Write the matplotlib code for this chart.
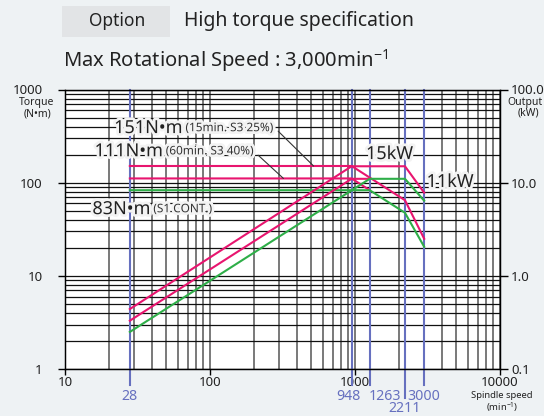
import matplotlib.pyplot as plt
from matplotlib import patheffects as pe
from matplotlib.patches import Rectangle
from matplotlib.ticker import FixedLocator, NullFormatter

plt.rcParams['font.family'] = ['Noto Sans', 'DejaVu Sans']
plt.rcParams['mathtext.default'] = 'regular'

# S3 25% (15min) curves
speed_25 = [28, 948, 2211, 3000]
torque_25 = [151, 151, 64.8, 25]
power_25 = [0.44, 15, 15, 7.8]

# S3 40% (60min) curves - join the S1 curves at 1263
speed_40 = [28, 948, 1263]
torque_40 = [111, 111, 83]
power_40 = [0.33, 11, 11]

# S1 continuous
speed_s1 = [28, 1263, 2211, 3000]
torque_s1 = [83, 83, 47.5, 20.5]
power_s1 = [0.25, 11, 11, 6.4]

marked_speeds = [28, 948, 1263, 2211, 3000]
marked_labels = ['28', '948', '1263', '2211', '3000']

x_ticks = [10, 100, 1000, 10000]
torque_ticks = [1, 10, 100, 1000]
power_ticks = [0.1, 1, 10, 100]

bg = '#eef2f4'
pink = '#e8156f'
green = '#2eae48'
blue = '#6670bf'
W, H = 544, 416

fig = plt.figure(figsize=(W / 100, H / 100), dpi=100, facecolor=bg)

# header
fig.patches.append(Rectangle((62 / W, 1 - 37 / H), 108 / W, 31 / H, transform=fig.transFigure,
                             facecolor='#e2e4e6', edgecolor='none'))
fig.text(117 / W, 1 - 21 / H, 'Option', fontsize=12.5, color='#222', ha='center', va='center')
fig.text(184 / W, 1 - 21 / H, 'High torque specification', fontsize=14, color='#222', va='center')
fig.text(63 / W, 1 - 61 / H, 'Max Rotational Speed : 3,000min$^{-1}$', fontsize=14.5, color='#222', va='center')

left, right, top, bottom = 65, 500, 89.5, 369
ax = fig.add_axes([left / W, 1 - bottom / H, (right - left) / W, (bottom - top) / H])
ax.set_xscale('log')
ax.set_yscale('log')
ax.set_xlim(10, 10000)
ax.set_ylim(1, 1000)
ax.set_facecolor('white')

ax.xaxis.set_major_locator(FixedLocator(x_ticks))
ax.yaxis.set_major_locator(FixedLocator(torque_ticks))
ax.xaxis.set_minor_formatter(NullFormatter())
ax.yaxis.set_minor_formatter(NullFormatter())
ax.set_xticklabels([str(v) for v in x_ticks])
ax.set_yticklabels([str(v) for v in torque_ticks])
ax.tick_params(axis='x', which='major', length=4, width=1, pad=1, labelsize=9.5, labelcolor='#222')
ax.tick_params(axis='y', which='major', length=5, width=1, pad=11, labelsize=9.5, labelcolor='#222')
ax.tick_params(which='minor', length=0)

ax.grid(True, which='both', axis='x', color='#555', lw=1.1)
ax.grid(True, which='both', axis='y', color='#111', lw=0.9)
ax.set_axisbelow(True)
for s in ax.spines.values():
    s.set_color('#111')
    s.set_linewidth(1)

ax2 = ax.twinx()
ax2.set_yscale('log')
ax2.set_ylim(0.1, 100)
ax2.yaxis.set_major_locator(FixedLocator(power_ticks))
ax2.yaxis.set_minor_formatter(NullFormatter())
ax2.set_yticklabels(['%.1f' % v for v in power_ticks])
ax2.tick_params(axis='y', which='major', length=6, width=1, pad=2, labelsize=9.5, labelcolor='#222')
ax2.tick_params(which='minor', length=0)

# marked speeds
for sp, lab in zip(marked_speeds, marked_labels):
    low = -0.105 if lab == '2211' else -0.057
    ax.plot([sp, sp], [low, 1], transform=ax.get_xaxis_transform(), color=blue, lw=1.5,
            clip_on=False, zorder=2)
    dx = 11 if lab == '1263' else (-2 if lab == '948' else 0)
    ty = -0.143 if lab == '2211' else -0.098
    ax.annotate(lab, xy=(sp, ty), xycoords=ax.get_xaxis_transform(), xytext=(dx, 0),
                textcoords='offset points', ha='center', va='center', fontsize=10.2, color=blue)

lw = 1.5
ax2.plot(speed_25, power_25, color=pink, lw=lw, zorder=3)
ax.plot(speed_25, torque_25, color=pink, lw=lw, zorder=3)
ax2.plot(speed_40, power_40, color=pink, lw=lw, zorder=3)
ax.plot(speed_40, torque_40, color=pink, lw=lw, zorder=3)
ax2.plot(speed_s1, power_s1, color=green, lw=lw, zorder=4)
ax.plot(speed_s1, torque_s1, color=green, lw=lw, zorder=4)

glow = [pe.withStroke(linewidth=4, foreground='#f3f3f3')]


def label(x, y, big, small):
    t = ax2.text(x, y, big, transform=ax.transAxes, fontsize=13, color='#222', va='center',
                 path_effects=glow, zorder=10)
    ax2.annotate(' ' + small, xy=(1, 0.16), xycoords=t, va='bottom', fontsize=8.5, color='#333',
                 path_effects=glow, zorder=10)


label(0.113, 0.862, '151N\u2022m', '(15min. S3 25%)')
label(0.068, 0.779, '111N\u2022m', '(60min. S3 40%)')
label(0.063, 0.572, '83N\u2022m', '(S1 CONT.)')

ax.annotate('', xy=(518, 151), xytext=(0.49, 0.851), textcoords='axes fraction',
            arrowprops=dict(arrowstyle='-', color='#333', lw=0.8, shrinkA=0, shrinkB=0), zorder=9)
ax.annotate('', xy=(321, 111), xytext=(0.444, 0.765), textcoords='axes fraction',
            arrowprops=dict(arrowstyle='-', color='#333', lw=0.8, shrinkA=0, shrinkB=0), zorder=9)

ax2.text(0.746, 0.769, '15kW', transform=ax.transAxes, fontsize=13, color='#222', ha='center',
         va='center', path_effects=glow, zorder=10)
ax2.text(0.885, 0.669, '11kW', transform=ax.transAxes, fontsize=13, color='#222', ha='center',
         va='center', path_effects=glow, zorder=10)

# axis captions
fig.text(37 / W, 1 - 103 / H, 'Torque', fontsize=7.5, color='#222', ha='center', va='center')
fig.text(37 / W, 1 - 114 / H, '(N\u2022m)', fontsize=7.5, color='#222', ha='center', va='center')
fig.text(507 / W, 1 - 102 / H, 'Output', fontsize=7.5, color='#222', ha='left', va='center')
fig.text(528 / W, 1 - 113 / H, '(kW)', fontsize=7.5, color='#222', ha='center', va='center')
fig.text(502 / W, 1 - 396 / H, 'Spindle speed', fontsize=6.8, color='#222', ha='center', va='center')
fig.text(502 / W, 1 - 407 / H, '(min$^{-1}$)', fontsize=6.8, color='#222', ha='center', va='center')

fig.savefig('out.png', dpi=100, facecolor=bg)
